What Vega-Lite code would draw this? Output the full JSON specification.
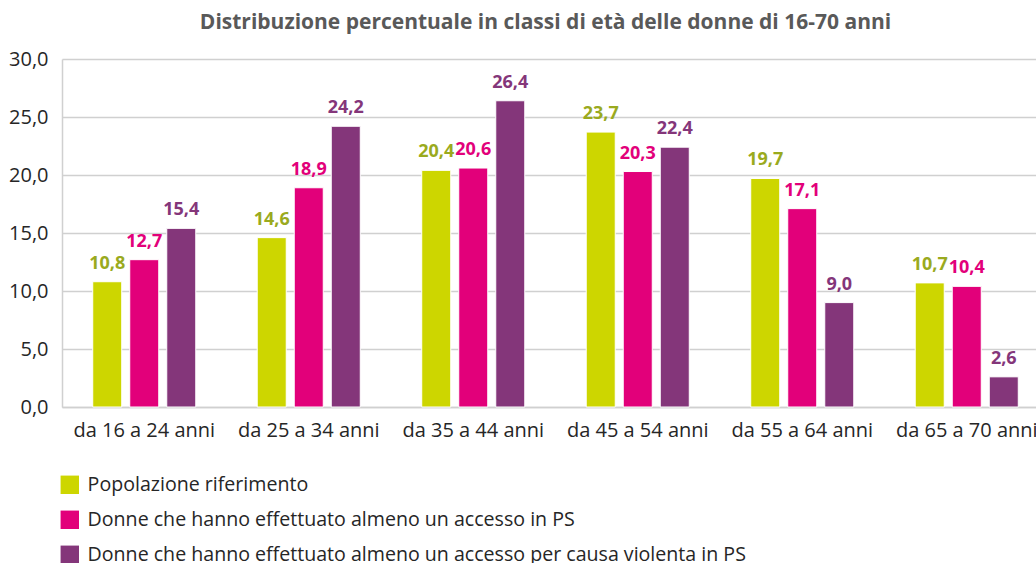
{
  "$schema": "https://vega.github.io/schema/vega-lite/v6.json",
  "width": 987,
  "height": 348,
  "padding": {"left": 8, "top": 12, "right": 0, "bottom": 0},
  "background": "white",
  "title": {
    "text": "Distribuzione percentuale in classi di età delle donne di 16-70 anni",
    "font": "Open Sans",
    "fontSize": 21,
    "fontWeight": "bold",
    "color": "#595959",
    "anchor": "middle",
    "dx": -10,
    "offset": 16
  },
  "config": {
    "view": {"stroke": null},
    "font": "Open Sans",
    "locale": {
      "number": {"decimal": ",", "thousands": ".", "grouping": [3], "currency": ["€", ""]}
    }
  },
  "data": {
    "values": [
      {"classe": "da 16 a 24 anni", "serie": "Popolazione riferimento", "valore": 10.8},
      {"classe": "da 16 a 24 anni", "serie": "Donne che hanno effettuato almeno un accesso in PS", "valore": 12.7},
      {"classe": "da 16 a 24 anni", "serie": "Donne che hanno effettuato almeno un accesso per causa violenta in PS", "valore": 15.4},
      {"classe": "da 25 a 34 anni", "serie": "Popolazione riferimento", "valore": 14.6},
      {"classe": "da 25 a 34 anni", "serie": "Donne che hanno effettuato almeno un accesso in PS", "valore": 18.9},
      {"classe": "da 25 a 34 anni", "serie": "Donne che hanno effettuato almeno un accesso per causa violenta in PS", "valore": 24.2},
      {"classe": "da 35 a 44 anni", "serie": "Popolazione riferimento", "valore": 20.4},
      {"classe": "da 35 a 44 anni", "serie": "Donne che hanno effettuato almeno un accesso in PS", "valore": 20.6},
      {"classe": "da 35 a 44 anni", "serie": "Donne che hanno effettuato almeno un accesso per causa violenta in PS", "valore": 26.4},
      {"classe": "da 45 a 54 anni", "serie": "Popolazione riferimento", "valore": 23.7},
      {"classe": "da 45 a 54 anni", "serie": "Donne che hanno effettuato almeno un accesso in PS", "valore": 20.3},
      {"classe": "da 45 a 54 anni", "serie": "Donne che hanno effettuato almeno un accesso per causa violenta in PS", "valore": 22.4},
      {"classe": "da 55 a 64 anni", "serie": "Popolazione riferimento", "valore": 19.7},
      {"classe": "da 55 a 64 anni", "serie": "Donne che hanno effettuato almeno un accesso in PS", "valore": 17.1},
      {"classe": "da 55 a 64 anni", "serie": "Donne che hanno effettuato almeno un accesso per causa violenta in PS", "valore": 9.0},
      {"classe": "da 65 a 70 anni", "serie": "Popolazione riferimento", "valore": 10.7},
      {"classe": "da 65 a 70 anni", "serie": "Donne che hanno effettuato almeno un accesso in PS", "valore": 10.4},
      {"classe": "da 65 a 70 anni", "serie": "Donne che hanno effettuato almeno un accesso per causa violenta in PS", "valore": 2.6}
    ]
  },
  "encoding": {
    "x": {
      "field": "classe",
      "type": "nominal",
      "sort": null,
      "scale": {"paddingInner": 0.325, "paddingOuter": 0.1625},
      "axis": {
        "title": null,
        "labelAngle": 0,
        "labelFont": "Open Sans",
        "labelFontSize": 20,
        "labelColor": "#262626",
        "labelPadding": 13,
        "ticks": false,
        "domainColor": "#d0d0d0",
        "domainWidth": 1.5,
        "grid": false
      }
    },
    "xOffset": {
      "field": "serie",
      "type": "nominal",
      "sort": ["Popolazione riferimento", "Donne che hanno effettuato almeno un accesso in PS", "Donne che hanno effettuato almeno un accesso per causa violenta in PS"],
      "scale": {"paddingInner": 0.216, "paddingOuter": 0.108}
    },
    "y": {
      "field": "valore",
      "type": "quantitative",
      "scale": {"domain": [0, 30], "nice": false},
      "axis": {
        "title": null,
        "values": [0, 5, 10, 15, 20, 25, 30],
        "format": ".1f",
        "labelFont": "Open Sans",
        "labelFontSize": 20,
        "labelColor": "#262626",
        "labelPadding": 14,
        "ticks": false,
        "domain": true,
        "domainColor": "#d0d0d0",
        "domainWidth": 1.5,
        "gridColor": "#d0d0d0",
        "gridWidth": 1.5
      }
    }
  },
  "layer": [
    {
      "mark": {"type": "bar", "stroke": "white", "strokeWidth": 1},
      "encoding": {
        "color": {
          "field": "serie",
          "type": "nominal",
          "sort": ["Popolazione riferimento", "Donne che hanno effettuato almeno un accesso in PS", "Donne che hanno effettuato almeno un accesso per causa violenta in PS"],
          "scale": {
            "domain": ["Popolazione riferimento", "Donne che hanno effettuato almeno un accesso in PS", "Donne che hanno effettuato almeno un accesso per causa violenta in PS"],
            "range": ["#cdd600", "#e2007a", "#84367a"]
          },
          "legend": {
            "title": null,
            "orient": "none",
            "legendX": -2,
            "legendY": 416,
            "direction": "vertical",
            "symbolType": "square",
            "symbolSize": 340,
            "symbolStrokeWidth": 0,
            "symbolOpacity": 1,
            "labelFont": "Open Sans",
            "labelFontSize": 19.6,
            "labelColor": "#262626",
            "labelOffset": 8,
            "rowPadding": 14,
            "labelLimit": 1000
          }
        }
      }
    },
    {
      "mark": {"type": "text", "baseline": "alphabetic", "dy": -13, "fontSize": 18, "fontWeight": "bold", "font": "Open Sans"},
      "encoding": {
        "text": {"field": "valore", "type": "quantitative", "format": ".1f"},
        "color": {
          "field": "serie",
          "type": "nominal",
          "scale": {
            "domain": ["Popolazione riferimento", "Donne che hanno effettuato almeno un accesso in PS", "Donne che hanno effettuato almeno un accesso per causa violenta in PS"],
            "range": ["#9aaa1e", "#e2007a", "#84367a"]
          },
          "legend": null
        }
      }
    }
  ],
  "resolve": {"scale": {"color": "independent"}}
}
